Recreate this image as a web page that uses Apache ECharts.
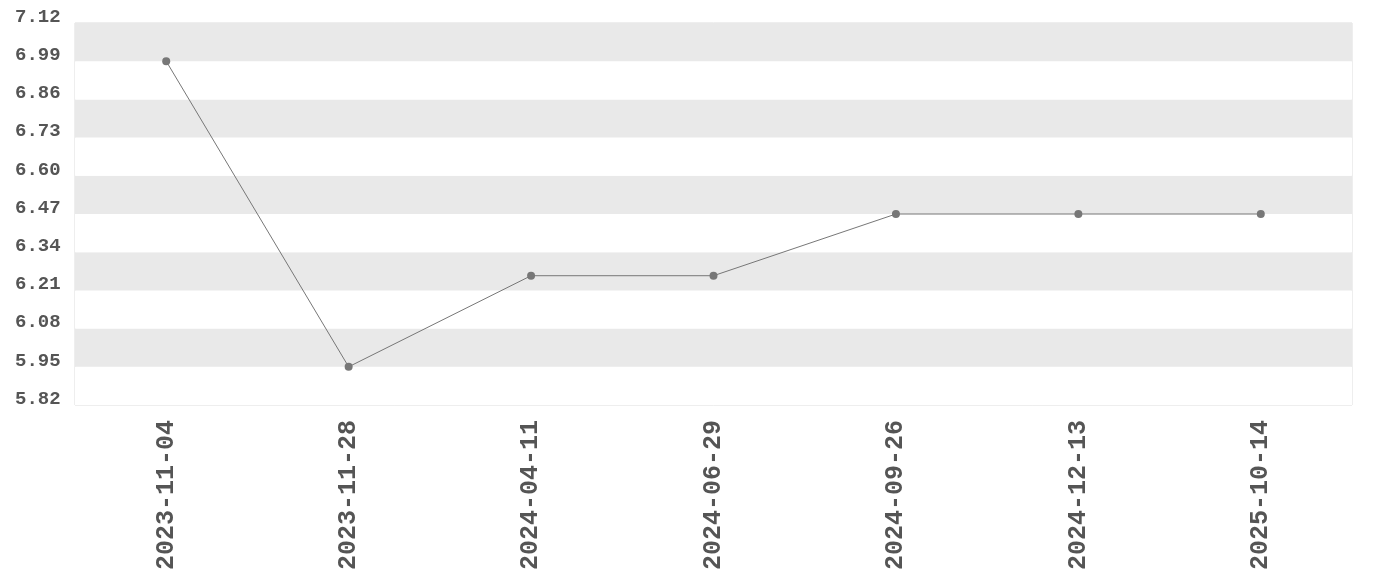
<!DOCTYPE html>
<html>
<head>
<meta charset="utf-8">
<style>
html,body{margin:0;padding:0;background:#fff;}
#chart{width:1380px;height:580px;}
</style>
<script src="https://cdn.jsdelivr.net/npm/echarts@6/dist/echarts.min.js"></script>
</head>
<body>
<div id="chart"></div>
<script>
const categories = ['2023-11-04','2023-11-28','2024-04-11','2024-06-29','2024-09-26','2024-12-13','2025-10-14'];
const values = [6.99, 5.95, 6.26, 6.26, 6.47, 6.47, 6.47];
const yMin = 5.82;
const yMax = 7.12;
const yStep = 0.13;

const chart = echarts.init(document.getElementById('chart'));
chart.setOption({
  animation: false,
  backgroundColor: '#ffffff',
  grid: {
    left: 75, right: 28, top: 23, bottom: 175,
    show: true, borderColor: '#dddddd', borderWidth: 1, backgroundColor: 'transparent'
  },
  xAxis: {
    type: 'category',
    data: categories,
    boundaryGap: true,
    axisLine: {show: false},
    axisTick: {show: false},
    splitLine: {show: false},
    axisLabel: {
      rotate: 90,
      margin: 15,
      interval: 0,
      color: '#555555',
      fontFamily: 'Liberation Mono',
      fontWeight: 'bold',
      fontSize: 25
    }
  },
  yAxis: {
    type: 'value',
    min: yMin,
    max: yMax,
    interval: yStep,
    axisLine: {show: false},
    axisTick: {show: false},
    splitLine: {show: false},
    splitArea: {show: true, areaStyle: {color: ['#ffffff', '#e9e9e9']}},
    axisLabel: {
      align: 'left',
      verticalAlign: 'bottom',
      lineHeight: 12,
      margin: 60,
      color: '#555555',
      fontFamily: 'Liberation Mono',
      fontWeight: 'bold',
      fontSize: 19,
      formatter: v => v.toFixed(2)
    }
  },
  series: [{
    type: 'line',
    data: values,
    symbol: 'circle',
    symbolSize: 8,
    itemStyle: {color: '#777777'},
    lineStyle: {color: '#777777', width: 1}
  }]
});
</script>
</body>
</html>
